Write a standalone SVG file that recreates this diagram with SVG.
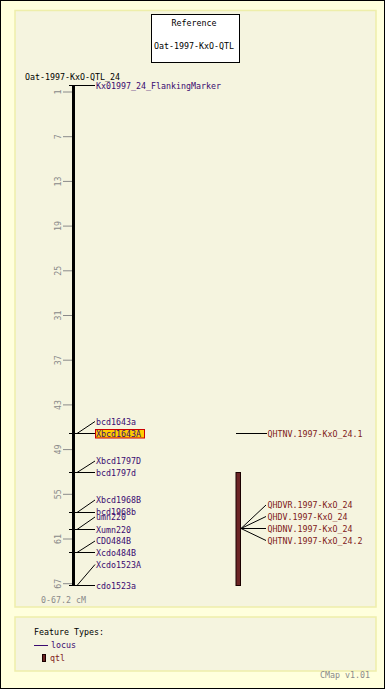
<svg xmlns="http://www.w3.org/2000/svg" width="385" height="689" viewBox="0 0 385 689">
<style>
text{font-family:"DejaVu Sans Mono","Liberation Mono",monospace;font-size:8.3px}
.blk{fill:#000}
.gry{fill:#8a8a8a}
.loc{fill:#3a0a70}
.qtl{fill:#802020}
.tick{stroke:#8a8a8a;stroke-width:1}
.ln{stroke:#000;stroke-width:1;fill:none}
.panel{fill:#f5f4df;stroke:#eeeeaa;stroke-width:1.5}
</style>
<rect x="0.5" y="0.5" width="384" height="688" fill="#ffffdd" stroke="#000" stroke-width="1"/>
<rect class="panel" x="15" y="10.5" width="361" height="596.5"/>
<rect class="panel" x="15" y="617" width="361" height="54"/>
<g id="title">
<rect x="151.5" y="14.5" width="88" height="48" fill="#fff" stroke="#000"/>
<text class="blk" x="194" y="25.5" text-anchor="middle">Reference</text>
<text class="blk" x="194" y="48.5" text-anchor="middle">Oat-1997-KxO-QTL</text>
</g>
<g id="map">
<text class="blk" x="25" y="80">Oat-1997-KxO-QTL_24</text>
<rect x="72" y="85" width="3" height="500.5" fill="#000"/>
<g id="ticks">
<line class="tick" x1="63" y1="92" x2="72" y2="92"/><text class="gry" transform="translate(61,92) rotate(-90)" text-anchor="middle">1</text>
<line class="tick" x1="63" y1="136.7" x2="72" y2="136.7"/><text class="gry" transform="translate(61,136.7) rotate(-90)" text-anchor="middle">7</text>
<line class="tick" x1="63" y1="181.4" x2="72" y2="181.4"/><text class="gry" transform="translate(61,181.4) rotate(-90)" text-anchor="middle">13</text>
<line class="tick" x1="63" y1="226.1" x2="72" y2="226.1"/><text class="gry" transform="translate(61,226.1) rotate(-90)" text-anchor="middle">19</text>
<line class="tick" x1="63" y1="270.8" x2="72" y2="270.8"/><text class="gry" transform="translate(61,270.8) rotate(-90)" text-anchor="middle">25</text>
<line class="tick" x1="63" y1="315.5" x2="72" y2="315.5"/><text class="gry" transform="translate(61,315.5) rotate(-90)" text-anchor="middle">31</text>
<line class="tick" x1="63" y1="360.2" x2="72" y2="360.2"/><text class="gry" transform="translate(61,360.2) rotate(-90)" text-anchor="middle">37</text>
<line class="tick" x1="63" y1="404.9" x2="72" y2="404.9"/><text class="gry" transform="translate(61,404.9) rotate(-90)" text-anchor="middle">43</text>
<line class="tick" x1="63" y1="449.6" x2="72" y2="449.6"/><text class="gry" transform="translate(61,449.6) rotate(-90)" text-anchor="middle">49</text>
<line class="tick" x1="63" y1="494.3" x2="72" y2="494.3"/><text class="gry" transform="translate(61,494.3) rotate(-90)" text-anchor="middle">55</text>
<line class="tick" x1="63" y1="539" x2="72" y2="539"/><text class="gry" transform="translate(61,539) rotate(-90)" text-anchor="middle">61</text>
<line class="tick" x1="63" y1="583.7" x2="72" y2="583.7"/><text class="gry" transform="translate(61,583.7) rotate(-90)" text-anchor="middle">67</text>
</g>
<text class="gry" x="41" y="603">0-67.2 cM</text>
</g>
<g id="connectors">
<path class="ln" d="M69 85.5H77M77 85.5H95"/>
<path class="ln" d="M69 433.5H77L95 421.5M77 433.5H95"/>
<path class="ln" d="M69 472.5H77L95 461M77 472.5H95"/>
<path class="ln" d="M69 512.5H77L95 500M77 512.5H95"/>
<path class="ln" d="M69 529.5H77L95 517M77 529.5H95"/>
<path class="ln" d="M69 552.5H77L95 541M77 552.5H95"/>
<path class="ln" d="M69 585.5H77L95 564.5M77 585.5H95"/>
<path class="ln" d="M236 433.5H267"/>
<path class="ln" d="M241 528.5L266 505M241 528.5L266 516.5M241 528.5H266M241 528.5L266 540.5"/>
</g>
<g id="loci">
<g id="Kx01997_24_FlankingMarker"><text class="loc" x="96" y="88.5">Kx01997_24_FlankingMarker</text></g>
<g id="bcd1643a"><text class="loc" x="96" y="424.5">bcd1643a</text></g>
<g id="Xbcd1643A"><rect x="95.5" y="429.5" width="49" height="8.5" fill="#ffcc00" stroke="#cc0000" stroke-width="1"/><text class="loc" x="96" y="436.5">Xbcd1643A</text></g>
<g id="Xbcd1797D"><text class="loc" x="96" y="464">Xbcd1797D</text></g>
<g id="bcd1797d"><text class="loc" x="96" y="475.5">bcd1797d</text></g>
<g id="Xbcd1968B"><text class="loc" x="96" y="503">Xbcd1968B</text></g>
<g id="bcd1968b"><text class="loc" x="96" y="515">bcd1968b</text></g>
<g id="umn220"><text class="loc" x="96" y="520">umn220</text></g>
<g id="Xumn220"><text class="loc" x="96" y="532.5">Xumn220</text></g>
<g id="CDO484B"><text class="loc" x="96" y="544">CDO484B</text></g>
<g id="Xcdo484B"><text class="loc" x="96" y="555.5">Xcdo484B</text></g>
<g id="Xcdo1523A"><text class="loc" x="96" y="567.5">Xcdo1523A</text></g>
<g id="cdo1523a"><text class="loc" x="96" y="588.5">cdo1523a</text></g>
</g>
<g id="qtls">
<g id="QHTNV.1997-KxO_24.1"><text class="qtl" x="267.5" y="436.5">QHTNV.1997-KxO_24.1</text></g>
<g id="qtlbar"><rect x="236" y="472.5" width="4.5" height="113" fill="#6b2424" stroke="#1a0000" stroke-width="1"/></g>
<g id="QHDVR.1997-KxO_24"><text class="qtl" x="267.5" y="508">QHDVR.1997-KxO_24</text></g>
<g id="QHDV.1997-KxO_24"><text class="qtl" x="267.5" y="519.5">QHDV.1997-KxO_24</text></g>
<g id="QHDNV.1997-KxO_24"><text class="qtl" x="267.5" y="531.5">QHDNV.1997-KxO_24</text></g>
<g id="QHTNV.1997-KxO_24.2"><text class="qtl" x="267.5" y="543.5">QHTNV.1997-KxO_24.2</text></g>
</g>
<g id="legend">
<text class="blk" x="34" y="634.5">Feature Types:</text>
<line x1="34" y1="645.5" x2="48" y2="645.5" stroke="#3a0a70" stroke-width="1"/>
<text class="loc" x="51" y="648">locus</text>
<rect x="42.5" y="654.5" width="3" height="7" fill="#6b2424" stroke="#1a0000" stroke-width="1"/>
<text class="qtl" x="50" y="661">qtl</text>
</g>
<text class="gry" x="320" y="678">CMap v1.01</text>
</svg>
